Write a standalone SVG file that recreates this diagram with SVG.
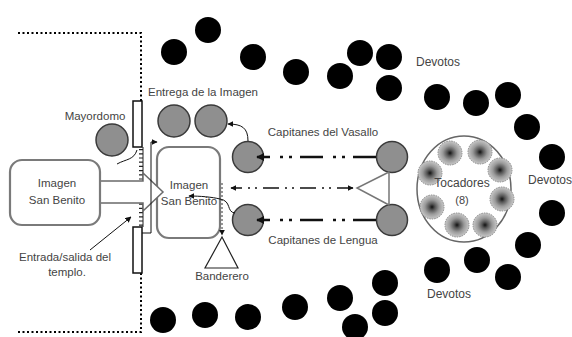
<svg xmlns="http://www.w3.org/2000/svg" width="572" height="337" viewBox="0 0 572 337">
<style>
text{font-family:"Liberation Sans",Arial,sans-serif;font-size:11.5px;fill:#444;text-anchor:middle}
.dev{fill:#000}
.gray{fill:#8f8f8f;stroke:#3a3a3a;stroke-width:1.5}
.toc{fill:url(#rg);stroke:#8a8a8a;stroke-width:1;stroke-dasharray:1.5 1}
.box{fill:#fff;stroke:#7a7a7a;stroke-width:2.2}
.dot{fill:none;stroke:#000;stroke-width:2;stroke-dasharray:2 2.5}
.thin{fill:none;stroke:#111;stroke-width:1}
.ddot{fill:none;stroke:#111;stroke-width:2.5;stroke-dasharray:23 8 3 6 3 10}
</style>
<defs>
<radialGradient id="rg">
<stop offset="0" stop-color="#111"/>
<stop offset="0.25" stop-color="#555"/>
<stop offset="0.6" stop-color="#9a9a9a"/>
<stop offset="1" stop-color="#c8c8c8"/>
</radialGradient>
<marker id="ah" viewBox="0 0 10 10" refX="9" refY="5" markerWidth="8" markerHeight="8" markerUnits="userSpaceOnUse" orient="auto-start-reverse">
<path d="M0,0 L10,5 L0,10 Z" fill="#111"/>
</marker>
<marker id="ahs" viewBox="0 0 10 10" refX="9" refY="5" markerWidth="6" markerHeight="6" markerUnits="userSpaceOnUse" orient="auto-start-reverse">
<path d="M0,0 L10,5 L0,10 Z" fill="#111"/>
</marker>
</defs>
<rect width="572" height="337" fill="#fff"/>

<g id="boundary">
<path class="dot" d="M18,33 H141 V147"/>
<path class="dot" d="M141,273 V332 H18"/>
<path d="M143,147 V227" fill="none" stroke="#222" stroke-width="1"/>
<path d="M141,149 V226" fill="none" stroke="#222" stroke-width="4" stroke-dasharray="1.2 3"/>
<rect x="133" y="101" width="9" height="46" fill="#fff" stroke="#111" stroke-width="1.5"/>
<rect x="133" y="227" width="9" height="46" fill="#fff" stroke="#111" stroke-width="1.5"/>
</g>

<g id="devotos">
<circle class="dev" cx="208" cy="30" r="13"/>
<circle class="dev" cx="174" cy="52" r="13"/>
<circle class="dev" cx="253" cy="57" r="13"/>
<circle class="dev" cx="296" cy="72" r="13"/>
<circle class="dev" cx="340" cy="76" r="13"/>
<circle class="dev" cx="360" cy="53" r="13"/>
<circle class="dev" cx="389" cy="57" r="13"/>
<circle class="dev" cx="389" cy="88" r="13"/>
<circle class="dev" cx="437" cy="97" r="13"/>
<circle class="dev" cx="476" cy="103" r="13"/>
<circle class="dev" cx="508" cy="95" r="13"/>
<circle class="dev" cx="527" cy="127" r="13"/>
<circle class="dev" cx="552" cy="157" r="13"/>
<circle class="dev" cx="552" cy="213" r="13"/>
<circle class="dev" cx="528" cy="245" r="13"/>
<circle class="dev" cx="508" cy="277" r="13"/>
<circle class="dev" cx="477" cy="260" r="13"/>
<circle class="dev" cx="437" cy="270" r="13"/>
<circle class="dev" cx="385" cy="283" r="13"/>
<circle class="dev" cx="385" cy="313" r="13"/>
<circle class="dev" cx="355" cy="327" r="13"/>
<circle class="dev" cx="340" cy="298" r="13"/>
<circle class="dev" cx="295" cy="307" r="13"/>
<circle class="dev" cx="248" cy="317" r="13"/>
<circle class="dev" cx="205" cy="315" r="13"/>
<circle class="dev" cx="163" cy="320" r="13"/>
<text x="438" y="66" style="font-size:12px">Devotos</text>
<text x="550" y="184" style="font-size:12px">Devotos</text>
<text x="449" y="298" style="font-size:12px">Devotos</text>
</g>

<g id="imagen-centro">
<rect class="box" x="157" y="147" width="63" height="91" rx="12"/>
<text x="189" y="189">Imagen</text>
<text x="189" y="205">San Benito</text>
</g>

<g id="imagen-izq">
<path d="M98,181 H143 V173 L163,192 L143,211 V203 H98 Z" fill="#fff" stroke="#6a6a6a" stroke-width="1.5"/>
<rect class="box" x="10" y="160" width="90" height="65" rx="12"/>
<text x="57" y="187">Imagen</text>
<text x="57" y="204">San Benito</text>
</g>

<g id="mayordomo">
<circle class="gray" cx="112" cy="140" r="16"/>
<text x="95" y="120">Mayordomo</text>
</g>

<g id="entrega">
<circle class="gray" cx="174" cy="121" r="16"/>
<circle class="gray" cx="211" cy="121" r="16"/>
<text x="203" y="96">Entrega de la Imagen</text>
</g>

<g id="capitanes-vasallo">
<circle class="gray" cx="248" cy="157" r="15.5"/>
<circle class="gray" cx="392" cy="157" r="15.5"/>
<text x="323" y="136">Capitanes del Vasallo</text>
</g>

<g id="capitanes-lengua">
<circle class="gray" cx="248" cy="220" r="15.5"/>
<circle class="gray" cx="392" cy="220" r="15.5"/>
<text x="323" y="244">Capitanes de Lengua</text>
</g>

<g id="banderero">
<path d="M222,237 L238,268 H205 Z" fill="#fff" stroke="#222" stroke-width="1.2"/>
<text x="222" y="280">Banderero</text>
</g>

<g id="tocadores">
<ellipse cx="464" cy="189" rx="47" ry="53" fill="#fff" stroke="#666" stroke-width="1.5"/>
<circle class="toc" cx="450" cy="153" r="12"/>
<circle class="toc" cx="480" cy="152" r="12"/>
<circle class="toc" cx="430" cy="173" r="12"/>
<circle class="toc" cx="500" cy="170" r="12"/>
<circle class="toc" cx="432" cy="207" r="12"/>
<circle class="toc" cx="502" cy="199" r="12"/>
<circle class="toc" cx="457" cy="225" r="12"/>
<circle class="toc" cx="485" cy="225" r="12"/>
<text x="462" y="187" style="font-size:12px">Tocadores</text>
<text x="462" y="204" style="font-size:11px">(8)</text>
</g>

<g id="entrada-label">
<text x="65" y="261">Entrada/salida del</text>
<text x="67" y="276">templo.</text>
</g>

<g id="connectors">
<path class="ddot" d="M376,157 H257" marker-end="url(#ah)"/>
<path class="ddot" d="M376,220 H257" marker-end="url(#ah)"/>
<path d="M353,188 H231" fill="none" stroke="#111" stroke-width="1.5" stroke-dasharray="16 6 2 5 2 6" marker-start="url(#ahs)" marker-end="url(#ahs)"/>
<path d="M389,172 L357,188 L389,205 M389,172 V205" fill="none" stroke="#777" stroke-width="1.5"/>
<path class="thin" d="M248,141 C248,128 242,124 228,124" marker-end="url(#ahs)"/>
<path class="thin" d="M235,213 C226,212 232,201 220,199 C212,197 200,196 189,196" marker-end="url(#ahs)"/>
<path d="M222,183 V235" fill="none" stroke="#333" stroke-width="1" stroke-dasharray="2 2" marker-end="url(#ahs)"/>
<path class="thin" d="M90,250 L131,217" marker-end="url(#ahs)"/>
<path class="thin" d="M117,164 C126,159 134,160 137,150"/>
<path class="thin" d="M142,233 H151 V142 H157" marker-end="url(#ahs)"/>
</g>
</svg>
